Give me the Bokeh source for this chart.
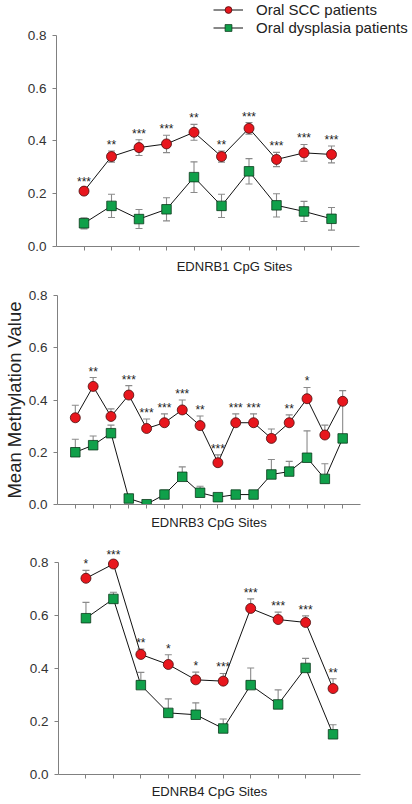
import numpy as np
from bokeh.plotting import figure
from bokeh.models import (Range1d, FixedTicker, Whisker, TeeHead, ColumnDataSource,
                          Legend, LegendItem, NumeralTickFormatter)
from bokeh.core.properties import value
from bokeh.embed import file_html
from bokeh.resources import INLINE

# ---------------- data ----------------
series_names = ["Oral SCC patients", "Oral dysplasia patients"]
y_label = "Mean Methylation Value"
y_ticks = [0.0, 0.2, 0.4, 0.6, 0.8]

# EDNRB1
ednrb1_label = "EDNRB1 CpG Sites"
ednrb1_scc = [0.210, 0.341, 0.375, 0.389, 0.433, 0.341, 0.448, 0.330, 0.355, 0.349]
ednrb1_scc_err = [0.012, 0.021, 0.030, 0.033, 0.030, 0.021, 0.022, 0.027, 0.032, 0.032]
ednrb1_dys = [0.088, 0.154, 0.104, 0.141, 0.263, 0.154, 0.285, 0.156, 0.133, 0.105]
ednrb1_dys_err = [0.021, 0.044, 0.036, 0.044, 0.058, 0.044, 0.048, 0.044, 0.038, 0.043]
ednrb1_sig = ["***", "**", "***", "***", "**", "**", "***", "***", "***", "***"]

# EDNRB3
ednrb3_label = "EDNRB3 CpG Sites"
ednrb3_scc = [0.332, 0.452, 0.337, 0.419, 0.291, 0.313, 0.362, 0.302, 0.160, 0.313,
              0.313, 0.253, 0.313, 0.405, 0.266, 0.395]
ednrb3_scc_err = [0.048, 0.034, 0.029, 0.036, 0.036, 0.034, 0.038, 0.037, 0.030, 0.034,
                  0.034, 0.036, 0.030, 0.043, 0.038, 0.041]
ednrb3_dys = [0.200, 0.227, 0.273, 0.023, 0.001, 0.038, 0.106, 0.045, 0.028, 0.038,
              0.038, 0.115, 0.126, 0.179, 0.098, 0.253]
ednrb3_dys_err = [0.050, 0.035, 0.031, 0.008, 0.004, 0.017, 0.038, 0.025, 0.008, 0.015,
                  0.015, 0.057, 0.039, 0.103, 0.058, 0.145]
ednrb3_sig = ["", "**", "", "***", "***", "***", "***", "**", "***", "***",
              "***", "", "**", "*", "", ""]

# EDNRB4
ednrb4_label = "EDNRB4 CpG Sites"
ednrb4_scc = [0.742, 0.796, 0.454, 0.416, 0.358, 0.353, 0.628, 0.586, 0.575, 0.325]
ednrb4_scc_err = [0.030, 0.012, 0.020, 0.037, 0.029, 0.029, 0.036, 0.028, 0.025, 0.037]
ednrb4_dys = [0.591, 0.664, 0.338, 0.233, 0.226, 0.174, 0.338, 0.265, 0.403, 0.152]
ednrb4_dys_err = [0.060, 0.025, 0.048, 0.053, 0.045, 0.036, 0.065, 0.055, 0.036, 0.036]
ednrb4_sig = ["*", "***", "**", "*", "*", "***", "***", "***", "***", "**"]

# ---------------- style ----------------
FONT = "Liberation Sans"
RED = "#e8161d"
RED_EDGE = "#4a0c0c"
GREEN = "#10a04a"
GREEN_EDGE = "#0b3a1c"
GRAY = "#8a8a8a"
AXIS = "#808080"
TXT = "#222222"


def make_panel(scc, scc_err, dys, dys_err, sig, xlabel, height, xend, ytop,
               b_top, b_bottom, b_left, b_right, symmetric, label_standoff):
    n = len(scc)
    sites = np.arange(1, n + 1)
    scc = np.array(scc)
    dys = np.array(dys)
    scc_err = np.array(scc_err)
    dys_err = np.array(dys_err)
    if xend is None:
        xend = n + 1

    p = figure(width=412, height=height, x_range=Range1d(0, xend), y_range=Range1d(0, ytop),
               output_backend="svg", toolbar_location=None,
               min_border_top=b_top, min_border_bottom=b_bottom,
               min_border_left=b_left, min_border_right=b_right)
    p.outline_line_color = None
    p.grid.grid_line_color = None

    # y axis
    yax = p.yaxis[0]
    yax.ticker = FixedTicker(ticks=y_ticks)
    yax.bounds = (0, 0.8)
    yax.formatter = NumeralTickFormatter(format="0.0")
    yax.axis_line_color = AXIS
    yax.major_tick_line_color = AXIS
    yax.major_tick_out = 4
    yax.major_tick_in = 0
    yax.minor_tick_line_color = None
    yax.major_label_standoff = 6
    yax.major_label_text_font = FONT
    yax.major_label_text_font_size = "13.5px"
    yax.major_label_text_color = "#333333"

    # x axis (unlabelled ticks at each CpG site)
    xax = p.xaxis[0]
    xax.ticker = FixedTicker(ticks=[], minor_ticks=list(sites))
    xax.bounds = (0, n + 1)
    xax.axis_line_color = AXIS
    xax.major_tick_line_color = AXIS
    xax.major_tick_out = 4
    xax.major_tick_in = 0
    xax.minor_tick_line_color = AXIS
    xax.minor_tick_out = 4
    xax.minor_tick_in = 0
    xax.major_label_standoff = 0
    xax.axis_label = xlabel
    xax.axis_label_text_font = FONT
    xax.axis_label_text_font_size = "13px"
    xax.axis_label_text_font_style = "normal"
    xax.axis_label_text_color = TXT
    xax.axis_label_standoff = label_standoff

    # error bars
    for vals, errs in ((scc, scc_err), (dys, dys_err)):
        src = ColumnDataSource(dict(x=sites, upper=vals + errs,
                                    lower=(vals - errs) if symmetric else vals))
        w = Whisker(base="x", upper="upper", lower="lower", source=src,
                    line_color=GRAY, line_width=1.1, level="underlay",
                    upper_head=TeeHead(size=7, line_color=GRAY, line_width=1.1),
                    lower_head=TeeHead(size=7, line_color=GRAY, line_width=1.1) if symmetric else None)
        p.add_layout(w)

    l1 = p.line(sites, scc, line_color="#111111", line_width=1)
    l2 = p.line(sites, dys, line_color="#111111", line_width=1)
    m1 = p.scatter(sites, scc, marker="circle", size=10, fill_color=RED,
                   line_color=RED_EDGE, line_width=0.8)
    m2 = p.scatter(sites, dys, marker="square", size=9.5, fill_color=GREEN,
                   line_color=GREEN_EDGE, line_width=0.8)

    keep = [i for i, s in enumerate(sig) if s]
    star_src = ColumnDataSource(dict(x=sites[keep], y=(scc + scc_err)[keep],
                                     t=[sig[i] for i in keep]))
    p.text(x="x", y="y", text="t", source=star_src, text_align="center",
           text_baseline="middle", y_offset=-6, text_font=value(FONT),
           text_font_size="12px", text_color=TXT)
    return p, (l1, m1), (l2, m2)


p1, s1, d1 = make_panel(ednrb1_scc, ednrb1_scc_err, ednrb1_dys, ednrb1_dys_err, ednrb1_sig,
                        ednrb1_label, 276, 12.945, 0.9327, 0, 30, 56, 0, True, 8)
p2, _, _ = make_panel(ednrb3_scc, ednrb3_scc_err, ednrb3_dys, ednrb3_dys_err, ednrb3_sig,
                      ednrb3_label, 256, None, 0.8, 19, 26, 56, 52, False, 6)
p3, _, _ = make_panel(ednrb4_scc, ednrb4_scc_err, ednrb4_dys, ednrb4_dys_err, ednrb4_sig,
                      ednrb4_label, 272, None, 0.9, 4, 30, 58, 52, False, 5)

# y axis title (shared, on middle panel)
yax2 = p2.yaxis[0]
yax2.axis_label = y_label
yax2.axis_label_text_font = FONT
yax2.axis_label_text_font_size = "18.5px"
yax2.axis_label_text_font_style = "normal"
yax2.axis_label_text_color = TXT
yax2.axis_label_standoff = 1

legend = Legend(items=[LegendItem(label=series_names[0], renderers=list(s1)),
                       LegendItem(label=series_names[1], renderers=list(d1))],
                location=(157, 210), orientation="vertical",
                border_line_color=None, background_fill_alpha=0,
                padding=0, margin=0, spacing=1,
                glyph_width=30, glyph_height=17, label_height=17, label_standoff=13,
                label_text_font=FONT, label_text_font_size="15px", label_text_color=TXT)
p1.add_layout(legend)

# three independent roots stacked vertically (keeps each panel's own borders)
open("out.html", "w").write(file_html([p1, p2, p3], INLINE))
